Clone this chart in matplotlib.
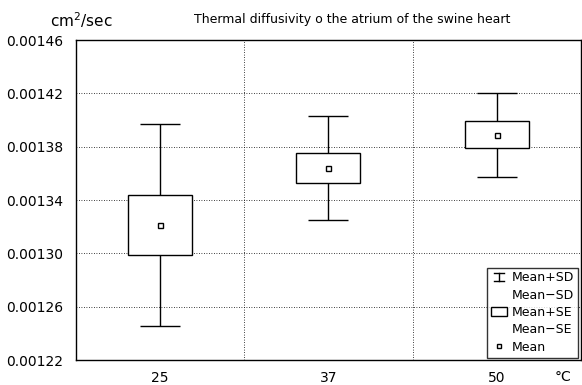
import numpy as np
import matplotlib.pyplot as plt
from matplotlib.lines import Line2D
from matplotlib.patches import Rectangle
from matplotlib.legend_handler import HandlerBase

# temperature groups and diffusivity stats (cm^2/sec)
temps = ['25', '37', '50']
means = [0.001321, 0.001364, 0.001389]
sds = [0.0000758, 0.0000388, 0.0000315]
ses = [0.0000225, 0.0000115, 0.0000100]


#draws the little I-beam used for the SD whiskers in the legend
class HandlerIBeam(HandlerBase):
    def create_artists(self, legend, orig_handle, xdescent, ydescent,
                       width, height, fontsize, trans):
        cx = width / 2 - xdescent
        w = width * 0.6
        y0 = -ydescent
        y1 = height - ydescent
        arts = [Line2D([cx, cx], [y0, y1], color='black', lw=1),
                Line2D([cx - w / 2, cx + w / 2], [y0, y0], color='black', lw=1),
                Line2D([cx - w / 2, cx + w / 2], [y1, y1], color='black', lw=1)]
        for a in arts:
            a.set_transform(trans)
        return arts


fig = plt.figure(figsize=(5.82, 3.85), dpi=100)
ax = fig.add_axes([0.1306, 0.0649, 0.8674, 0.8312])

x = np.arange(len(temps)) + 0.5
means = np.array(means)
sds = np.array(sds)
ses = np.array(ses)

ax.errorbar(x, means, yerr=sds, fmt='none', ecolor='black', elinewidth=1,
            capsize=14.4, capthick=1, zorder=2)
ax.bar(x, 2 * ses, bottom=means - ses, width=0.38, color='white',
       edgecolor='black', linewidth=1, zorder=3)
ax.plot(x, means, 's', ms=3.6, mfc='white', mec='black', mew=1, zorder=4)

ax.set_xlim(0, 3)
ax.set_ylim(0.00122, 0.00146)
ax.set_xticks(x)
ax.set_xticklabels(temps)
ax.set_xticks([1, 2], minor=True)
yt = [0.00122, 0.00126, 0.00130, 0.00134, 0.00138, 0.00142, 0.00146]
ax.set_yticks(yt)
ax.set_yticklabels(['%.5f' % v for v in yt])
ax.tick_params(axis='both', which='both', length=0, labelsize=10)
ax.tick_params(axis='y', pad=9)
ax.tick_params(axis='x', pad=8)

ax.grid(True, axis='y', which='major', color='black', linestyle=(0, (1, 2)), linewidth=0.6)
ax.grid(True, axis='x', which='minor', color='black', linestyle=(0, (1, 2)), linewidth=0.6)
ax.set_axisbelow(True)
for s in ax.spines.values():
    s.set_linewidth(1)

ibeam = Line2D([], [], color='black')
handles = [ibeam,
           Line2D([], [], color='none'),
           Rectangle((0, 0), 1, 1, facecolor='white', edgecolor='black', lw=1),
           Line2D([], [], color='none'),
           Line2D([], [], marker='s', ls='none', ms=3, mfc='white', mec='black', mew=1)]
labels = ['Mean+SD', 'Mean\u2212SD', 'Mean+SE', 'Mean\u2212SE', 'Mean']
leg = ax.legend(handles, labels, loc='lower right', fontsize=9,
                handler_map={ibeam: HandlerIBeam()},
                frameon=True, fancybox=False, edgecolor='black',
                borderaxespad=0.2, handlelength=1.3, handletextpad=0.4,
                labelspacing=0.35, borderpad=0.3)
leg.get_frame().set_linewidth(1)

fig.text(352 / 582, 1 - 20 / 385, 'Thermal diffusivity o the atrium of the swine heart',
         fontsize=9, ha='center', va='center')
fig.text(81 / 582, 1 - 20 / 385, 'cm$^2$/sec', fontsize=11, ha='center', va='center')
fig.text(563 / 582, 8 / 385, '\u00b0C', fontsize=10, ha='center', va='center')

fig.savefig('out.png', dpi=100)
